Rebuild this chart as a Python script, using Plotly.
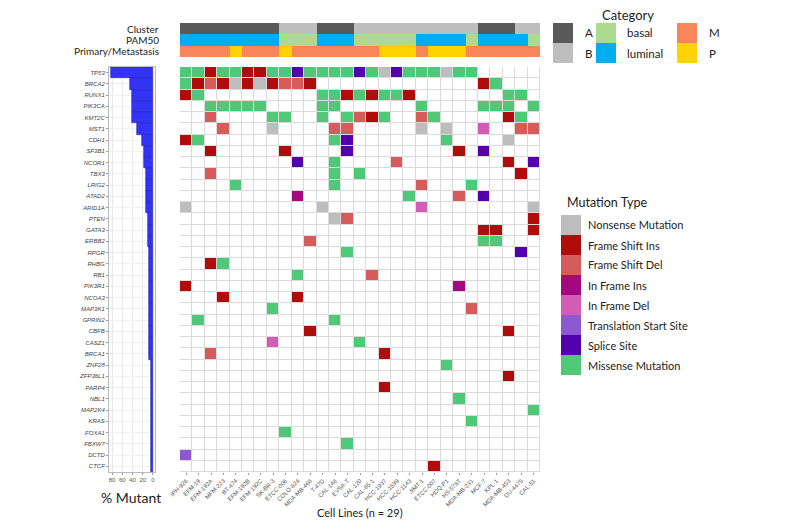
import plotly.graph_objects as go

# page body has an 8px margin, so the figure is drawn offset by 8px
PAGE_OFF = 8
W, H = 800 - PAGE_OFF, 530 - PAGE_OFF

cell_lines = ["IPH-926", "EFM-19", "EFM-192A", "MFM-223", "BT-474", "EFM-192B",
              "EFM-192C", "SK-BR-3", "ETCC-006", "COLO-824", "MDA-MB-468", "T-47D",
              "CAL-148", "EVSA-T", "CAL-120", "CAL-85-1", "HCC-1937", "HCC-1599",
              "HCC-1143", "JIMT-1", "ETCC-007", "HDQ-P1", "HS-578T", "MDA-MB-231",
              "MCF-7", "KPL-1", "MDA-MB-453", "DU-4475", "CAL-51"]

genes = ["TP53", "BRCA2", "RUNX1", "PIK3CA", "KMT2C", "MST1", "CDH1", "SF3B1", "NCOR1",
         "TBX3", "LRIG2", "ATAD2", "ARID1A", "PTEN", "GATA3", "ERBB2", "RPGR", "RHBG",
         "RB1", "PIK3R1", "NCOA3", "MAP3K1", "GPRIN2", "CBFB", "CASZ1", "BRCA1", "ZNF28",
         "ZFP36L1", "PARP4", "NBL1", "MAP2K4", "KRAS", "FOXA1", "FBXW7", "DCTD", "CTCF"]

# one character per cell line: . none, N nonsense, I frame shift ins, D frame shift del,
# i in frame ins, d in frame del, T translation start site, S splice site, M missense
mutation_rows = [
    "MMIMMIIMMSMMMMSMNSMMMNMM.....",  # TP53
    "MIDININIDDI.............IM...",  # BRCA2
    "IM.........MMIMIMMI.......MM.",  # RUNX1
    "..MMMMM....MM......M....MMM.M",  # PIK3CA
    "..D....MM..M.MDIM..DM.....IM.",  # KMT2C
    "...D...N....DD.....N.N..d..DD",  # MST1
    "IM..........MS.......M....N..",  # CDH1
    "..I.....I....S........I.S....",  # SF3B1
    ".........S..M....D........I.S",  # NCOR1
    "..D.........M.M............I.",  # TBX3
    "....M.......M......D...M.....",  # LRIG2
    ".........i........M...D.S....",  # ATAD2
    "N..........N.......d........N",  # ARID1A
    "............ND..............I",  # PTEN
    "........................II..I",  # GATA3
    "..........D.............MM...",  # ERBB2
    ".............M.............S.",  # RPGR
    "..IM.........................",  # RHBG
    ".........M.....D.............",  # RB1
    "I.....................i......",  # PIK3R1
    "...I.....I...................",  # NCOA3
    ".......M...............D.....",  # MAP3K1
    ".M..........M................",  # GPRIN2
    "..........I...............I..",  # CBFB
    ".......d......M..............",  # CASZ1
    "..D.............I............",  # BRCA1
    ".....................M.......",  # ZNF28
    "..........................I..",  # ZFP36L1
    "................I............",  # PARP4
    "......................M......",  # NBL1
    "............................M",  # MAP2K4
    ".......................M.....",  # KRAS
    "........M....................",  # FOXA1
    ".............M...............",  # FBXW7
    "T............................",  # DCTD
    "....................I........",  # CTCF
]
for r in mutation_rows:
    assert len(r) == len(cell_lines), r

mutation_codes = [".", "N", "I", "D", "i", "d", "T", "S", "M"]
mutation_names = ["", "Nonsense Mutation", "Frame Shift Ins", "Frame Shift Del", "In Frame Ins",
                  "In Frame Del", "Translation Start Site", "Splice Site", "Missense Mutation"]
mutation_colors = ["#FFFFFF", "#BDBDBD", "#B00C0C", "#D65C5C", "#A3087F", "#D35CB6",
                   "#8E58D3", "#5400AF", "#4FC878"]

cluster = ["A"] * 8 + ["B"] * 3 + ["A"] * 3 + ["B"] * 10 + ["A"] * 3 + ["B"] * 2
pam50 = (["luminal"] * 8 + ["basal"] * 3 + ["luminal"] * 3 + ["basal"] * 5 +
         ["luminal"] * 4 + ["basal"] + ["luminal"] * 4 + ["basal"])
origin = (["M"] * 4 + ["P"] + ["M"] * 3 + ["P"] + ["M"] * 7 + ["P"] * 3 + ["M"] +
          ["P"] * 3 + ["M"] * 6)
annotation_rows = ["Cluster", "PAM50", "Primary/Metastasis"]
category_levels = ["A", "B", "basal", "luminal", "M", "P"]
category_colors = ["#595959", "#BEBEBE", "#ABDB8E", "#00AEEF", "#F7875A", "#FFD200"]

# ---------- derived ----------
code_index = {c: i for i, c in enumerate(mutation_codes)}
z = [[code_index[ch] for ch in row] for row in mutation_rows]
text = [[mutation_names[code_index[ch]] for ch in row] for row in mutation_rows]
pct_mutant = [100.0 * sum(ch != "." for ch in row) / len(cell_lines) for row in mutation_rows]

cat_index = {c: i for i, c in enumerate(category_levels)}
ann_z = [[cat_index[v] for v in cluster], [cat_index[v] for v in pam50],
         [cat_index[v] for v in origin]]


def discrete_scale(colors):
    n = len(colors)
    cs = []
    for k, c in enumerate(colors):
        cs.append([k / n, c])
        cs.append([(k + 1) / n, c])
    return cs


def px(x):
    return (x - PAGE_OFF) / W


def py(y):
    return 1 - (y - PAGE_OFF) / H


GRID_X0, GRID_X1 = 180, 540
GRID_Y0, GRID_Y1 = 67, 472
ANN_Y0, ANN_Y1 = 23, 57
BAR_X0, BAR_X1 = 109, 155

fig = go.Figure()

fig.add_trace(go.Heatmap(
    z=z, x=cell_lines, y=genes, text=text, colorscale=discrete_scale(mutation_colors),
    zmin=-0.5, zmax=len(mutation_colors) - 0.5, xgap=1, ygap=1, showscale=False,
    xaxis="x", yaxis="y", hovertemplate="%{y} / %{x}<br>%{text}<extra></extra>"))

fig.add_trace(go.Heatmap(
    z=ann_z, x=cell_lines, y=annotation_rows, colorscale=discrete_scale(category_colors),
    zmin=-0.5, zmax=len(category_colors) - 0.5, showscale=False,
    xaxis="x2", yaxis="y2"))

fig.add_trace(go.Bar(
    x=pct_mutant, y=genes, orientation="h", width=1.0,
    marker=dict(color="#3333F6", line=dict(color="#2020B0", width=0.6)),
    xaxis="x3", yaxis="y3", showlegend=False))

shapes = [dict(type="rect", xref="x", yref="y", x0=-0.5, x1=len(cell_lines) - 0.5,
               y0=-0.5, y1=len(genes) - 0.5, fillcolor="#DADADA", line=dict(width=0),
               layer="below")]
annotations = []

LEG_FONT = "Lato, Open Sans, sans-serif"

# annotation row labels
for row in annotation_rows:
    annotations.append(dict(x=px(161), y=row, xref="paper", yref="y2", text=row,
                            showarrow=False, xanchor="right", yanchor="middle",
                            font=dict(family=LEG_FONT, size=10, color="#222")))

# Category legend
annotations.append(dict(x=px(628), y=py(15), xref="paper", yref="paper", text="Category",
                        showarrow=False, font=dict(family=LEG_FONT, size=13, color="#222"),
                        xanchor="center", yanchor="middle"))
cat_pos = [(553, 23, "A"), (553, 43, "B"), (596, 23, "basal"), (596, 43, "luminal"),
           (677, 23, "M"), (677, 43, "P")]
label_dx = {553: 30, 596: 29, 677: 30}
for (x0, y0, lab) in cat_pos:
    shapes.append(dict(type="rect", xref="paper", yref="paper", x0=px(x0), x1=px(x0 + 20),
                       y0=py(y0 + 20), y1=py(y0), fillcolor=category_colors[cat_index[lab]],
                       line=dict(width=0)))
    annotations.append(dict(x=px(x0 + label_dx[x0]), y=py(y0 + 10), xref="paper", yref="paper",
                            text=lab, showarrow=False, xanchor="left", yanchor="middle",
                            font=dict(family=LEG_FONT, size=11.5, color="#222")))

# Mutation type legend
annotations.append(dict(x=px(565), y=py(202), xref="paper", yref="paper", text="Mutation Type",
                        showarrow=False, xanchor="left", yanchor="middle",
                        font=dict(family=LEG_FONT, size=12.5, color="#222")))
for k in range(1, len(mutation_names)):
    y0 = 215 + 20 * (k - 1)
    shapes.append(dict(type="rect", xref="paper", yref="paper", x0=px(561), x1=px(581),
                       y0=py(y0 + 20), y1=py(y0), fillcolor=mutation_colors[k],
                       line=dict(width=0)))
    annotations.append(dict(x=px(586), y=py(y0 + 10), xref="paper", yref="paper",
                            text=mutation_names[k], showarrow=False, xanchor="left",
                            yanchor="middle", font=dict(family=LEG_FONT, size=11, color="#222")))

annotations.append(dict(x=px(131), y=py(497), xref="paper", yref="paper", text="% Mutant",
                        showarrow=False, xanchor="center", yanchor="middle",
                        font=dict(family=LEG_FONT, size=14, color="#222")))
annotations.append(dict(x=px(360), y=py(512), xref="paper", yref="paper",
                        text="Cell Lines (n = 29)", showarrow=False, xanchor="center",
                        yanchor="middle", font=dict(family=LEG_FONT, size=11, color="#222")))

fig.update_layout(
    width=W, height=H, margin=dict(l=0, r=0, t=0, b=0, autoexpand=False),
    paper_bgcolor="white", plot_bgcolor="white", showlegend=False, bargap=0,
    font=dict(family="Liberation Sans, Arial, sans-serif"),
    xaxis=dict(domain=[px(GRID_X0), px(GRID_X1)], type="category", categoryarray=cell_lines,
               range=[-0.5, len(cell_lines) - 0.5], tickangle=-45, showgrid=False,
               zeroline=False, ticks="outside", ticklen=2, tickcolor="#999",
               tickmode="array", tickvals=cell_lines, ticktext=cell_lines,
               tickfont=dict(size=6, color="#555"), automargin=False),
    yaxis=dict(domain=[py(GRID_Y1), py(GRID_Y0)], type="category", categoryarray=genes,
               range=[len(genes) - 0.5, -0.5], showticklabels=False, showgrid=False,
               zeroline=False, automargin=False),
    xaxis2=dict(domain=[px(GRID_X0), px(GRID_X1)], anchor="y2", type="category",
                categoryarray=cell_lines, range=[-0.5, len(cell_lines) - 0.5],
                showticklabels=False, showgrid=False, zeroline=False, automargin=False),
    yaxis2=dict(domain=[py(ANN_Y1), py(ANN_Y0)], anchor="x2", type="category",
                categoryarray=annotation_rows, range=[2.5, -0.5], showgrid=False,
                zeroline=False, showticklabels=False, automargin=False),
    xaxis3=dict(domain=[px(BAR_X0), px(BAR_X1)], anchor="y3", range=[86, -4],
                tickvals=[80, 60, 40, 20, 0], showgrid=True, gridcolor="#EBEBEB",
                zeroline=False, ticks="outside", ticklen=2, tickcolor="#999",
                tickfont=dict(size=6, color="#555"), showline=True, linecolor="#BBBBBB",
                mirror=True, automargin=False),
    yaxis3=dict(domain=[py(GRID_Y1), py(GRID_Y0)], anchor="x3", type="category",
                categoryarray=genes, range=[len(genes) - 0.5, -0.5], showgrid=True,
                gridcolor="#F0F0F0", zeroline=False, ticks="outside", ticklen=2,
                tickmode="array", tickvals=genes, ticktext=genes,
                tickcolor="#999", tickfont=dict(size=6, color="#444", style="italic"),
                showline=True, linecolor="#BBBBBB", mirror=True, automargin=False),
    shapes=shapes, annotations=annotations,
)

fig.write_html("out.html")
